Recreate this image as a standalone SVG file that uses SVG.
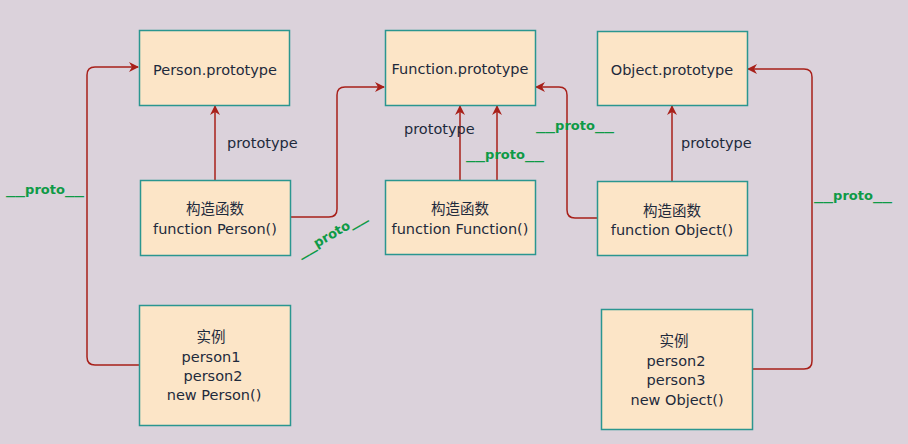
<svg xmlns="http://www.w3.org/2000/svg" width="908" height="444" viewBox="0 0 908 444">
<defs>
<marker id="arr" viewBox="0 0 10 10" refX="9" refY="5" markerWidth="10" markerHeight="10" markerUnits="userSpaceOnUse" orient="auto">
<path d="M0,0 L10,5 L0,10 L3,5 z" fill="#A8201A"/>
</marker>
<style>
.box{fill:#FCE5C7;stroke:#2A9690;stroke-width:1.5}
.t{font-family:"DejaVu Sans","Noto Sans CJK SC",sans-serif;font-size:14.5px;fill:#1E2A3C;text-anchor:middle}
.lbl{font-family:"DejaVu Sans","Noto Sans CJK SC",sans-serif;font-size:14.5px;fill:#1E2A3C}
.g{font-family:"DejaVu Sans",sans-serif;font-size:13px;font-weight:bold;fill:#0E9A46;text-anchor:middle}
.c{fill:none;stroke:#A8201A;stroke-width:1.5;marker-end:url(#arr)}
</style>
</defs>
<rect width="908" height="444" fill="#DBD2DB"/>
<g id="connectors">
<path class="c" d="M215,180 V106"/>
<path class="c" d="M139,365 H95 Q87,365 87,357 V75 Q87,67 95,67 H138"/>
<path class="c" d="M290,217 H329 Q337,217 337,209 V95 Q337,87 345,87 H384"/>
<path class="c" d="M460,180 V106"/>
<path class="c" d="M497,180 V106"/>
<path class="c" d="M597,218 H575 Q567,218 567,210 V95 Q567,87 559,87 H536"/>
<path class="c" d="M672,181 V106"/>
<path class="c" d="M752,369 H804 Q812,369 812,361 V77 Q812,69 804,69 H748"/>
</g>
<g id="labels">
<text class="lbl" x="227" y="148">prototype</text>
<text class="lbl" x="404" y="134">prototype</text>
<text class="lbl" x="681" y="148">prototype</text>
<text class="g" x="45" y="194"><tspan textLength="19" lengthAdjust="spacingAndGlyphs">__</tspan>proto<tspan textLength="19" lengthAdjust="spacingAndGlyphs">__</tspan></text>
<text class="g" x="505" y="159"><tspan textLength="19" lengthAdjust="spacingAndGlyphs">__</tspan>proto<tspan textLength="19" lengthAdjust="spacingAndGlyphs">__</tspan></text>
<text class="g" x="575" y="130"><tspan textLength="19" lengthAdjust="spacingAndGlyphs">__</tspan>proto<tspan textLength="19" lengthAdjust="spacingAndGlyphs">__</tspan></text>
<text class="g" x="853" y="200"><tspan textLength="19" lengthAdjust="spacingAndGlyphs">__</tspan>proto<tspan textLength="19" lengthAdjust="spacingAndGlyphs">__</tspan></text>
<text class="g" transform="translate(334,238) rotate(-30)"><tspan textLength="19" lengthAdjust="spacingAndGlyphs">__</tspan>proto<tspan textLength="19" lengthAdjust="spacingAndGlyphs">__</tspan></text>
</g>
<g id="person-prototype">
<rect class="box" x="139.5" y="30.5" width="150" height="75"/>
<text class="t" x="215" y="75">Person.prototype</text>
</g>
<g id="function-prototype">
<rect class="box" x="385.5" y="30.5" width="150" height="75"/>
<text class="t" x="460" y="74">Function.prototype</text>
</g>
<g id="object-prototype">
<rect class="box" x="597.5" y="31.5" width="150" height="74"/>
<text class="t" x="672" y="75">Object.prototype</text>
</g>
<g id="person-ctor">
<rect class="box" x="140.5" y="180.5" width="150" height="75"/>
<text class="t" x="215" y="214">构造函数</text>
<text class="t" x="215" y="234">function Person()</text>
</g>
<g id="function-ctor">
<rect class="box" x="385.5" y="180.5" width="150" height="74"/>
<text class="t" x="460" y="214">构造函数</text>
<text class="t" x="460" y="234">function Function()</text>
</g>
<g id="object-ctor">
<rect class="box" x="597.5" y="181.5" width="150" height="74"/>
<text class="t" x="672" y="216">构造函数</text>
<text class="t" x="672" y="235">function Object()</text>
</g>
<g id="person-instances">
<rect class="box" x="139.5" y="305.5" width="151" height="120"/>
<text class="t" x="211" y="342">实例</text>
<text class="t" x="211" y="362">person1</text>
<text class="t" x="213" y="381">person2</text>
<text class="t" x="214" y="400">new Person()</text>
</g>
<g id="object-instances">
<rect class="box" x="601.5" y="309.5" width="151" height="120"/>
<text class="t" x="674" y="346">实例</text>
<text class="t" x="676" y="366">person2</text>
<text class="t" x="676" y="385">person3</text>
<text class="t" x="677" y="405">new Object()</text>
</g>
</svg>
